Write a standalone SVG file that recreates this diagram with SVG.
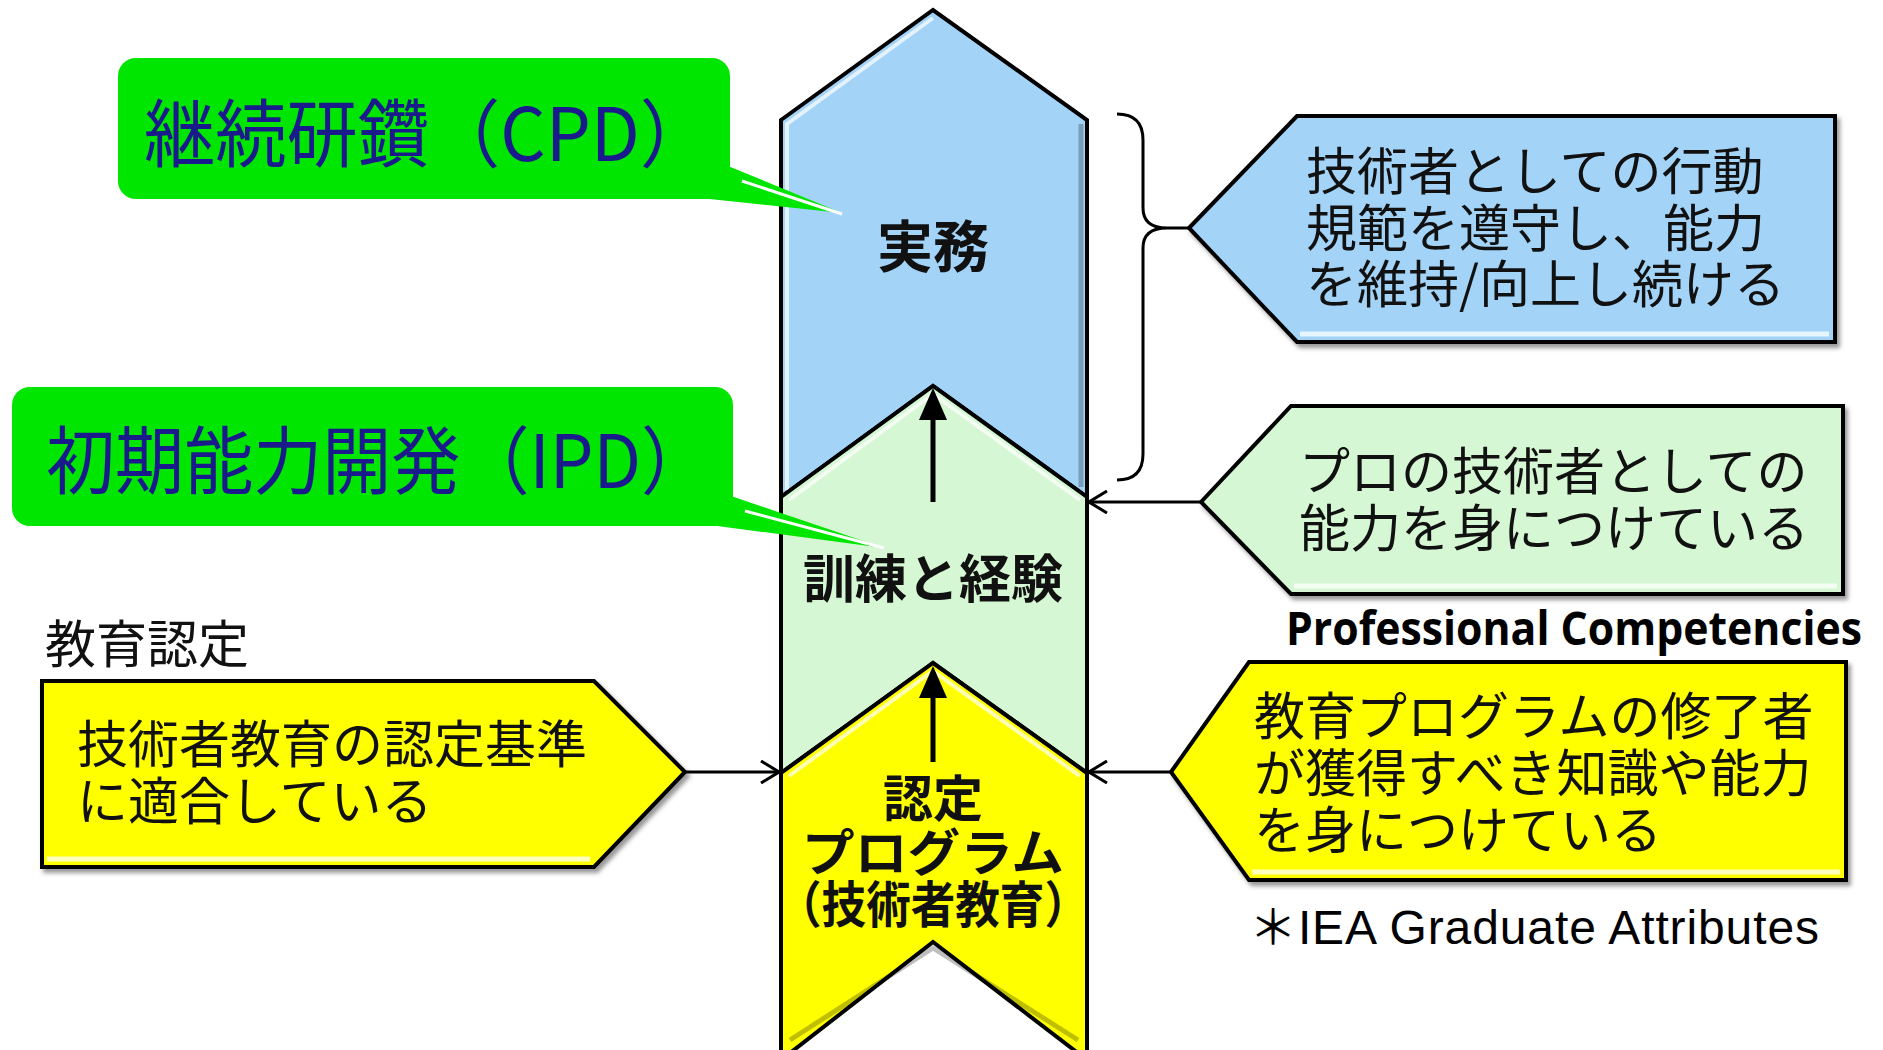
<svg xmlns="http://www.w3.org/2000/svg" width="1883" height="1050" viewBox="0 0 1883 1050">
<defs>
<style>
.jp{font-family:"Noto Sans CJK JP","Noto Sans CJK SC",sans-serif;fill:#111;}
.col{stroke:#000;stroke-width:4;stroke-linejoin:miter;}
.box{stroke:#000;stroke-width:4;stroke-linejoin:miter;}
.call{fill:#00e600;}
.calltxt{font-family:"Noto Sans CJK JP",sans-serif;fill:#1a1a8c;font-size:74px;}
.con{stroke:#000;stroke-width:3;fill:none;}
.hl{stroke:#ffffff;stroke-opacity:0.7;stroke-width:4;fill:none;}
.sh{stroke:#000;stroke-opacity:0.25;stroke-width:5;fill:none;}
</style>
<filter id="ds" x="-5%" y="-5%" width="110%" height="115%">
<feDropShadow dx="3" dy="4" stdDeviation="2" flood-color="#444" flood-opacity="0.55"/>
</filter>
<marker id="open" viewBox="0 0 20 24" refX="19" refY="12" markerWidth="20" markerHeight="24" markerUnits="userSpaceOnUse" orient="auto">
<path d="M1,1 L19,12 L1,23" fill="none" stroke="#000" stroke-width="3"/>
</marker>
</defs>
<rect width="1883" height="1050" fill="#ffffff"/>

<g id="column">
<g id="jitsumu">
<polygon class="col" fill="#a3d3f7" points="781,120 933,10 1087,120 1087,497 933,386 781,497"/>
<polyline class="hl" points="787,490 787,124 933,18"/>
<polyline class="sh" points="1081,124 1081,487"/>
<text class="jp" x="933" y="242" font-size="56" font-weight="bold" text-anchor="middle" dominant-baseline="central">実務</text>
</g>
<g id="kunren">
<polygon class="col" fill="#d5f7d3" points="781,497 933,386 1087,497 1087,773 933,663 781,773"/>
<polyline class="hl" points="789,500 933,394 1080,500"/>
<text class="jp" x="933" y="575" font-size="52" font-weight="bold" text-anchor="middle" dominant-baseline="central">訓練と経験</text>
</g>
<g id="nintei">
<polygon class="col" fill="#ffff00" points="781,773 933,663 1087,773 1087,1060 933,942 781,1060"/>
<polyline class="hl" points="789,776 933,671 1080,776"/>
<polyline class="sh" points="790,1040 933,948 1078,1040"/>
<text class="jp" x="933" y="795" font-size="50" font-weight="bold" text-anchor="middle" dominant-baseline="central">認定</text>
<text class="jp" x="933" y="849" font-size="50" font-weight="bold" text-anchor="middle" dominant-baseline="central" textLength="262" lengthAdjust="spacingAndGlyphs">プログラム</text>
<text class="jp" x="933" y="901" font-size="50" font-weight="bold" text-anchor="middle" dominant-baseline="central" textLength="312" lengthAdjust="spacingAndGlyphs">（技術者教育）</text>
</g>
</g>

<g id="cpd">
<rect class="call" x="118" y="58" width="612" height="141" rx="18"/>
<polygon class="call" points="728,166 842,213 700,198"/>
<line x1="742" y1="181" x2="842" y2="214" stroke="#fff" stroke-width="3"/>
<text class="calltxt" x="144" y="128" dominant-baseline="central" textLength="567" lengthAdjust="spacingAndGlyphs">継続研鑽（CPD）</text>
</g>

<g id="ipd">
<rect class="call" x="12" y="387" width="721" height="139" rx="18"/>
<polygon class="call" points="731,496 884,548 710,525"/>
<line x1="745" y1="511" x2="884" y2="548" stroke="#fff" stroke-width="3"/>
<text class="calltxt" x="46" y="455" dominant-baseline="central" textLength="664" lengthAdjust="spacingAndGlyphs">初期能力開発（IPD）</text>
</g>

<g id="practice-desc">
<polygon class="box" fill="#a3d3f7" filter="url(#ds)" points="1189,228 1297,116 1835,116 1835,342 1297,342"/>
<line x1="1300" y1="334" x2="1829" y2="334" stroke="#e6f6ff" stroke-width="5"/>
<text class="jp" font-size="51" x="1306" y="168" dominant-baseline="central">技術者としての行動</text>
<text class="jp" font-size="51" x="1306" y="225" dominant-baseline="central">規範を遵守し、能力</text>
<text class="jp" font-size="51" x="1306" y="281" dominant-baseline="central">を維持/向上し続ける</text>
</g>

<g id="pc-desc">
<polygon class="box" fill="#d5f7d3" filter="url(#ds)" points="1201,502 1291,406 1843,406 1843,594 1291,594"/>
<line x1="1294" y1="586" x2="1837" y2="586" stroke="#f2fff2" stroke-width="5"/>
<text class="jp" font-size="51" x="1299" y="468" dominant-baseline="central">プロの技術者としての</text>
<text class="jp" font-size="51" x="1299" y="525" dominant-baseline="central">能力を身につけている</text>
</g>

<g id="pc-label">
<text transform="translate(1286,645) scale(1,1.22)" x="0" y="0" font-family="'Open Sans','Liberation Sans',sans-serif" font-weight="bold" font-size="38" fill="#000" textLength="576" lengthAdjust="spacingAndGlyphs">Professional Competencies</text>
</g>

<g id="ga-desc">
<polygon class="box" fill="#ffff00" filter="url(#ds)" points="1171,772 1249,662 1846,662 1846,880 1249,880"/>
<line x1="1252" y1="872" x2="1840" y2="872" stroke="#ffffc0" stroke-width="5"/>
<text class="jp" font-size="51" x="1254" y="713" dominant-baseline="central">教育プログラムの修了者</text>
<text class="jp" font-size="51" x="1254" y="770" dominant-baseline="central">が獲得すべき知識や能力</text>
<text class="jp" font-size="51" x="1254" y="827" dominant-baseline="central">を身につけている</text>
</g>

<g id="ga-label">
<text x="1249" y="944" font-family="'Liberation Sans',Arial,'Noto Sans CJK JP',sans-serif" font-size="48" fill="#000" textLength="570">＊IEA Graduate Attributes</text>
</g>

<g id="accred-label">
<text class="jp" font-size="51" x="45" y="641" dominant-baseline="central">教育認定</text>
</g>

<g id="accred-desc">
<polygon class="box" fill="#ffff00" filter="url(#ds)" points="42,681 594,681 685,772 594,867 42,867"/>
<line x1="47" y1="859" x2="590" y2="859" stroke="#ffffc0" stroke-width="5"/>
<text class="jp" font-size="51" x="77" y="741" dominant-baseline="central">技術者教育の認定基準</text>
<text class="jp" font-size="51" x="77" y="798" dominant-baseline="central">に適合している</text>
</g>

<g id="connectors">
<path class="con" d="M1117,114 Q1143,114 1143,140 L1143,208 Q1143,228 1167,228 L1189,228 M1167,228 Q1143,228 1143,248 L1143,454 Q1143,480 1117,480"/>
<line class="con" x1="1201" y1="502" x2="1089" y2="502" marker-end="url(#open)"/>
<line class="con" x1="1171" y1="772" x2="1089" y2="772" marker-end="url(#open)"/>
<line class="con" x1="685" y1="772" x2="779" y2="772" marker-end="url(#open)"/>
<line x1="933" y1="502" x2="933" y2="395" stroke="#000" stroke-width="5"/>
<line x1="933" y1="762" x2="933" y2="672" stroke="#000" stroke-width="5"/>
<path d="M933,388 L947,420 L919,420 Z" fill="#000"/>
<path d="M933,666 L947,698 L919,698 Z" fill="#000"/>
</g>
</svg>
